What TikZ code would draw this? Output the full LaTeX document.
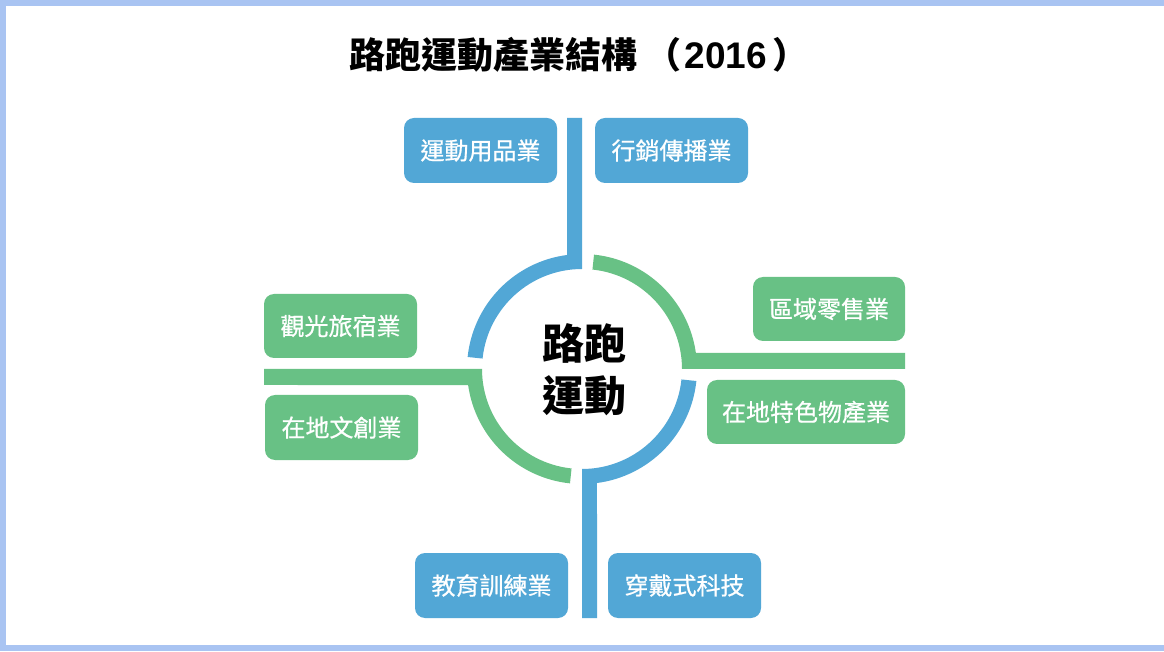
\documentclass[tikz,border=0pt]{standalone}
\usepackage{fontspec}
\setmainfont{Noto Sans CJK TC}
\newfontfamily\boxfont[FakeBold=0.7]{Noto Sans CJK TC}
\newfontfamily\digitfont{Liberation Sans}
\usetikzlibrary{calc}
\definecolor{frameblue}{HTML}{A9C4F2}
\definecolor{segblue}{HTML}{52A7D6}
\definecolor{seggreen}{HTML}{68C185}
\begin{document}
\begin{tikzpicture}[x=1pt,y=1pt,
  box/.style={rounded corners=10pt, minimum height=65pt, inner sep=0pt, text=white,
    font=\boxfont\fontsize{24}{28}\selectfont},
  bluebox/.style={box, fill=segblue},
  greenbox/.style={box, fill=seggreen},
  titletext/.style={font=\fontsize{36}{40}\selectfont\bfseries, inner sep=0pt},
  centertext/.style={font=\fontsize{42}{52}\selectfont\bfseries, align=center, inner sep=0pt}]
\useasboundingbox (0,0) rectangle (1164,651);
\fill[frameblue] (0,0) rectangle (1164,651);
\fill[white] (6,6) rectangle (1164,645);

\node[titletext] (title) at (579,596.5) {路跑運動產業結構\hspace{8pt}（\hspace{3pt}{\digitfont\bfseries\fontsize{37}{40}\selectfont 2016}\hspace{5pt}）};

\coordinate (c) at (582,282);
% top-left blue quadrant with upward bar
\fill[segblue] (567,533) -- (582,533) -- ($(c)+(90:100pt)$)
  arc[start angle=90,end angle=174,radius=100pt]
  -- ($(c)+(174:115pt)$) arc[start angle=174,end angle=97.49,radius=115pt] -- cycle;
% top-right green quadrant with rightward bar
\fill[seggreen] ($(c)+(84:115pt)$) arc[start angle=84,end angle=8.0,radius=115pt]
  -- (905,298) -- (905,282) -- ($(c)+(0:100pt)$)
  arc[start angle=0,end angle=84,radius=100pt] -- cycle;
% bottom-right blue quadrant with downward bar
\fill[segblue] ($(c)+(-6:115pt)$) arc[start angle=-6,end angle=-82.51,radius=115pt]
  -- (597,33) -- (582,33) -- ($(c)+(-90:100pt)$)
  arc[start angle=-90,end angle=-6,radius=100pt] -- cycle;
% bottom-left green quadrant with leftward bar
\fill[seggreen] (264,282) -- ($(c)+(180:100pt)$)
  arc[start angle=180,end angle=264,radius=100pt]
  -- ($(c)+(264:115pt)$) arc[start angle=264,end angle=188.0,radius=115pt]
  -- (264,266) -- cycle;

\node[centertext] (ctr) at (584.5,281) {路跑\\運動};

\node[bluebox, minimum width=153pt] (b1) at (480.5,500.5) {運動用品業};
\node[bluebox, minimum width=153pt] (b2) at (671.5,500.5) {行銷傳播業};
\node[greenbox, minimum width=153pt, minimum height=64pt] (b3) at (340.5,325) {觀光旅宿業};
\node[greenbox, minimum width=153pt] (b4) at (341.5,223.5) {在地文創業};
\node[greenbox, minimum width=152pt, minimum height=64pt] (b5) at (829,342) {區域零售業};
\node[greenbox, minimum width=198pt, minimum height=64pt] (b6) at (806,239) {在地特色物產業};
\node[bluebox, minimum width=153pt] (b7) at (491.5,65.5) {教育訓練業};
\node[bluebox, minimum width=153pt] (b8) at (684.5,65.5) {穿戴式科技};
\end{tikzpicture}
\end{document}
